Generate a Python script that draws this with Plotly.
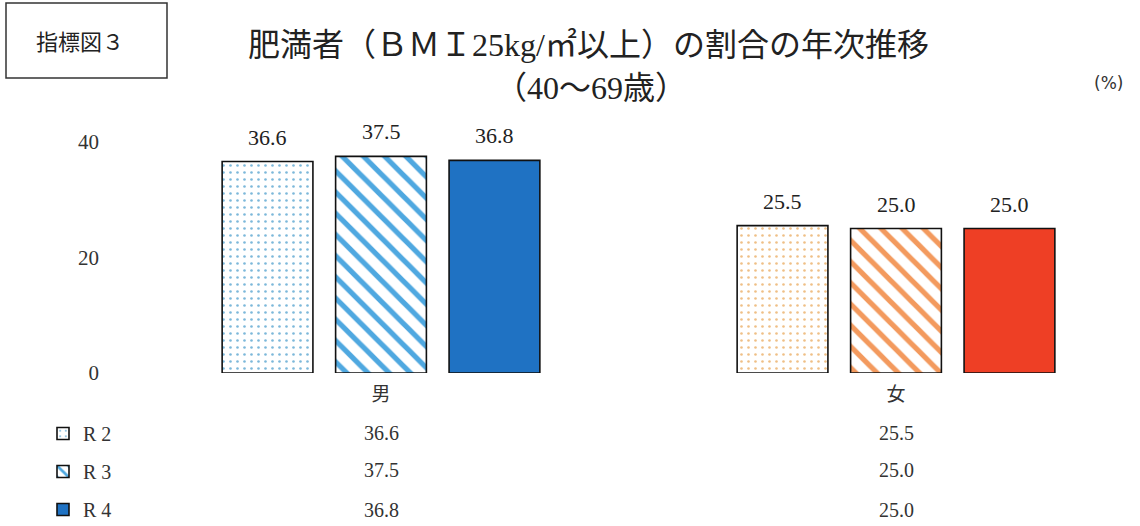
import plotly.graph_objects as go

# Data
categories = ["男", "女"]
series_names = ["R 2", "R 3", "R 4"]
values_r2 = [36.6, 25.5]
values_r3 = [37.5, 25.0]
values_r4 = [36.8, 25.0]
y_ticks = [0, 20, 40]

# Layout geometry (pixels)
W, H = 1140, 526
ML, MR, MT, MB = 108, 10, 113, 153
PW, PH = W - ML - MR, H - MT - MB


def px_x(px):
    return (px - ML) / PW


def px_y(py):
    return (H - MB - py) / PH


SERIF = "Liberation Serif, Noto Sans CJK JP"
CJK = "Noto Sans CJK JP"

blue_dark = "#1f72c3"
red_dark = "#ee3f25"
blue_stripe = "#4fa8e0"
orange_stripe = "#f39a5e"
blue_dot = "#7cb8da"
orange_dot = "#efbf86"

BARGAP, BARGROUPGAP = 0.339, 0.2

fig = go.Figure()

fig.add_trace(go.Bar(
    name=series_names[0], x=categories, y=values_r2, legendgroup="a",
    marker=dict(
        color="white",
        line=dict(color="#111", width=1.6),
        pattern=dict(shape=".", fgcolor=[blue_dot, orange_dot], bgcolor="white",
                     fgopacity=1, size=7, solidity=0.11),
    ),
))
fig.add_trace(go.Bar(
    name=series_names[1], x=categories, y=values_r3, legendgroup="b",
    marker=dict(
        color="white",
        line=dict(color="#111", width=1.6),
        pattern=dict(shape="\\", fgcolor=[blue_stripe, orange_stripe], bgcolor="white",
                     fgopacity=1, size=15, solidity=0.35),
    ),
))
fig.add_trace(go.Bar(
    name=series_names[2], x=categories, y=values_r4, legendgroup="c",
    marker=dict(
        color=[blue_dark, red_dark],
        line=dict(color="#111", width=1.6),
    ),
))

# x range chosen so the category centres land where wanted
step = 515
x0 = -(381 - ML) / step
x1 = x0 + PW / step

# value labels above each bar, shifted to its slot in the group
slot_px = step * (1 - BARGAP) / 3
for i, vals in enumerate([values_r2, values_r3, values_r4]):
    for cat, v in zip(categories, vals):
        fig.add_annotation(
            text=f"{v:.1f}", xref="x", yref="y", x=cat, y=v,
            xshift=(i - 1) * slot_px, yshift=10,
            xanchor="center", yanchor="bottom", showarrow=False,
            font=dict(family=SERIF, size=22, color="#222"),
        )

fig.update_layout(
    width=W, height=H,
    margin=dict(l=ML, r=MR, t=MT, b=MB, autoexpand=False),
    paper_bgcolor="white", plot_bgcolor="white",
    barmode="group", bargap=BARGAP, bargroupgap=BARGROUPGAP,
    showlegend=True,
    legend=dict(
        x=px_x(43), y=px_y(414), xanchor="left", yanchor="top",
        font=dict(family=SERIF, size=20, color="#333"),
        tracegroupgap=9, traceorder="grouped",
        bgcolor="rgba(0,0,0,0)",
    ),
    xaxis=dict(
        range=[x0, x1], showgrid=False, showline=False, zeroline=False,
        ticks="", tickfont=dict(family=CJK, size=19, color="#333"),
        ticklabelstandoff=8,
    ),
    yaxis=dict(
        range=[0, 45], tickvals=y_ticks, showgrid=False, showline=False,
        zeroline=False, ticks="", tickfont=dict(family=SERIF, size=21, color="#333"),
        ticklabelstandoff=8,
    ),
)

# Title
fig.add_annotation(
    text="肥満者（ＢＭＩ25kg/㎡以上）の割合の年次推移",
    xref="paper", yref="paper", x=px_x(588), y=px_y(45),
    xanchor="center", yanchor="middle", showarrow=False,
    font=dict(family=SERIF, size=32, color="#222"),
)
fig.add_annotation(
    text="（40〜69歳）",
    xref="paper", yref="paper", x=px_x(591), y=px_y(88),
    xanchor="center", yanchor="middle", showarrow=False,
    font=dict(family=SERIF, size=32, color="#222"),
)

# Figure number box
fig.add_shape(
    type="rect", xref="paper", yref="paper",
    x0=px_x(6), x1=px_x(167), y0=px_y(78), y1=px_y(3),
    line=dict(color="#333", width=1.5), fillcolor="white",
)
fig.add_annotation(
    text="指標図３", xref="paper", yref="paper", x=px_x(80), y=px_y(40),
    xanchor="center", yanchor="middle", showarrow=False,
    font=dict(family=CJK, size=22, color="#222"),
)

# Unit label
fig.add_annotation(
    text="(%)", xref="paper", yref="paper", x=px_x(1108), y=px_y(83),
    xanchor="center", yanchor="middle", showarrow=False,
    font=dict(family="DejaVu Sans", size=17, color="#333"),
)

# Data table below the axis
row_y = [433, 470, 510]
for vals, py in zip([values_r2, values_r3, values_r4], row_y):
    for cat, v in zip(categories, vals):
        fig.add_annotation(
            text=f"{v:.1f}", xref="x", yref="paper", x=cat, y=px_y(py),
            xanchor="center", yanchor="middle", showarrow=False,
            font=dict(family=SERIF, size=20, color="#333"),
        )

fig.write_html("out.html")
